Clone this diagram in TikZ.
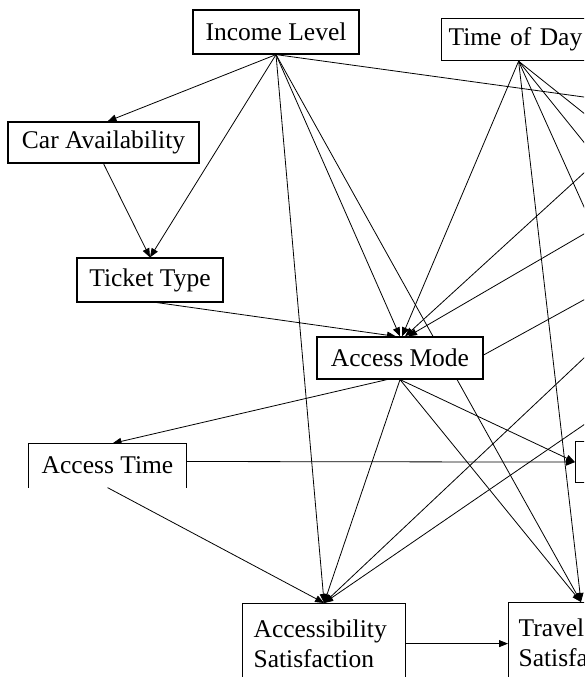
\documentclass[tikz,border=0pt]{standalone}
\usepackage{fontspec}
\setmainfont{Liberation Serif}
\usetikzlibrary{arrows.meta,backgrounds}
\tikzset{
  box/.style={draw=black, line width=1.2pt, fill=white, inner sep=0pt,
    font=\fontsize{25.5}{30}\selectfont},
  edge/.style={line width=0.8pt, -{Triangle[length=9pt,width=7pt]}}
}
\begin{document}
\begin{tikzpicture}[x=1pt,y=-1pt]
\useasboundingbox (0,0) rectangle (584,677);
\clip (0,0) rectangle (584,677);
% nodes
\node[box, minimum width=166pt, minimum height=44pt] (inc) at (276,32) {Income Level};
\node[box, anchor=north west, text width=146pt, align=left, inner xsep=7pt, minimum height=42pt] (tod) at (441,18) {Time of Day};
\node[box, minimum width=191pt, minimum height=41pt] (car) at (103.5,142.5) {Car Availability};
\node[box, minimum width=146pt, minimum height=44pt] (tt) at (150,280) {Ticket Type};
\node[box, minimum width=166pt, minimum height=42pt] (am) at (400,358) {Access Mode};
\node[box, draw=none, minimum width=157pt, minimum height=43pt] (at) at (107.5,465.5) {Access Time};
\draw[line width=1.2pt] (at.south west) -- (at.north west) -- (at.north east) -- (at.south east);
\node[box, anchor=north west, minimum width=100pt, minimum height=41pt] (rn) at (575,441) {};
\node[box, anchor=north west, text width=141pt, inner xsep=11pt, minimum height=80pt, align=left] (as) at (242,603) {Accessibility\\Satisfaction};
\node[box, anchor=north west, text width=146pt, align=left, inner xsep=10pt, minimum height=80pt] (ts) at (508,602) {Travel\\Satisfaction};
% off-picture ends
\coordinate (r0) at (620,102);
\coordinate (r1) at (620,142);
\coordinate (r2) at (620,187);
\coordinate (r3) at (620,287);
\coordinate (r4) at (620,140);
\coordinate (r5) at (620,213);
\coordinate (r6) at (620,280);
\coordinate (r7) at (620,324);
\coordinate (r8) at (620,400);
\begin{pgfonlayer}{background}
\clip (0,0) rectangle (584,677);
\draw[edge] (inc.south) -- ([xshift=4pt]car.north);
\draw[edge] (inc.south) -- (tt.north);
\draw[edge] (car.south) -- (tt.north);
\draw[edge] ([xshift=7pt]tt.south) -- ([xshift=-4pt]am.north);
\draw[edge] (inc.south) -- (am.north);
\draw[edge] (inc.south) -- (as.north);
\draw[edge] (inc.south) -- (r0);
\draw[edge] (inc.south) -- ([xshift=73pt]ts.north west);
\draw[edge] ([xshift=-3pt]tod.south) -- ([xshift=2pt]am.north);
\draw[edge] ([xshift=-3pt]tod.south) -- ([xshift=73pt]ts.north west);
\draw[edge] ([xshift=-3pt]tod.south) -- (r1);
\draw[edge] ([xshift=-3pt]tod.south) -- (r2);
\draw[edge] ([xshift=-3pt]tod.south) -- (r3);
\draw[edge] (r4) -- ([xshift=5pt]am.north);
\draw[edge] (r5) -- ([xshift=8pt]am.north);
\draw[edge] ([yshift=3pt]am.east) -- (r6);
\draw[edge] ([xshift=-13pt]am.south) -- ([xshift=5pt]at.north);
\draw[edge] (am.south) -- (as.north);
\draw[edge] (am.south) -- ([xshift=73pt]ts.north west);
\draw[edge] (am.south) -- (rn.west);
\draw[edge] ([yshift=4pt]at.east) -- (rn.west);
\draw[edge] (at.south) -- (as.north);
\draw[edge] (r7) -- (as.north);
\draw[edge] (r8) -- (as.north);
\draw[edge] (as.east) -- (as.east -| ts.west);
\end{pgfonlayer}
\end{tikzpicture}
\end{document}
